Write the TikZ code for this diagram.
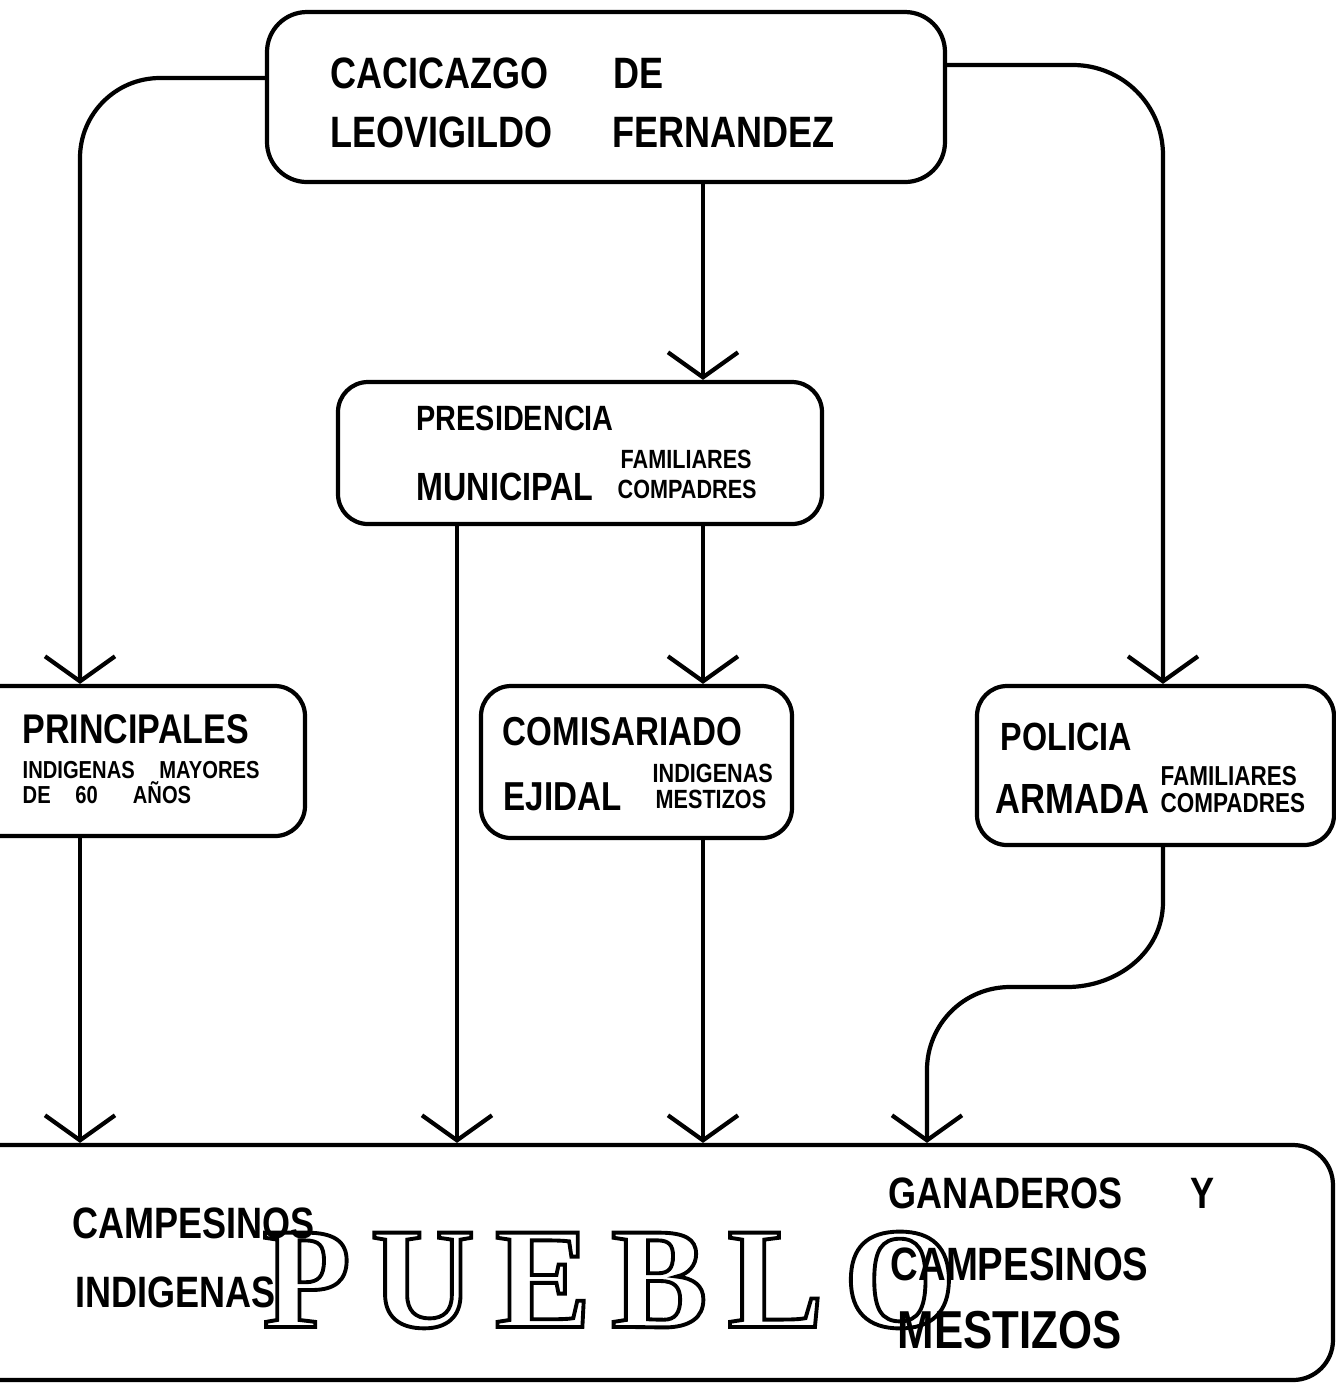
\documentclass[tikz,border=0pt]{standalone}
\usepackage{fontspec}
\usetikzlibrary{arrows.meta}
\newfontfamily\hand{Liberation Sans}[FakeStretch=0.82]
\newfontfamily\stencil{Liberation Serif}[LetterSpace=14]
\newcommand\hollow[1]{\special{pdf:literal direct 1 Tr 1.1 w}#1\special{pdf:literal direct 0 Tr}}
\tikzset{
  box/.style={draw,line width=1.2pt,rounded corners=3mm},
  arr/.style={line width=1.2pt,-{Straight Barb[length=2.5mm,width=7mm]}},
  lbl/.style={anchor=base west,inner sep=0pt,font=\hand\bfseries\fontsize{#1}{#1}\selectfont},
}
\begin{document}
\begin{tikzpicture}
        \useasboundingbox (0,0) rectangle (13.36,-13.87);
        \clip (0,0) rectangle (13.36,-13.87);
        %% Boxes
        \node[box,rounded corners=4mm,minimum width=6.78cm,minimum height=1.70cm] (cac) at (6.06,-0.97) {};
        \node[box,minimum width=4.84cm,minimum height=1.42cm] (pres) at (5.80,-4.53) {};
        \node[box,minimum width=3.45cm,minimum height=1.50cm] (prin) at (1.325,-7.61) {};
        \node[box,minimum width=3.11cm,minimum height=1.52cm] (com) at (6.365,-7.62) {};
        \node[box,minimum width=3.57cm,minimum height=1.59cm] (pol) at (11.555,-7.655) {};
        \node[box,rounded corners=4mm,minimum width=13.73cm,minimum height=2.35cm] (pue) at (6.465,-12.625) {};
        %% Columns and rows
        \coordinate (colA) at (0.80,0);
        \coordinate (colB) at (4.57,0);
        \coordinate (colC) at (7.03,0);
        \coordinate (colD) at (11.63,0);
        \coordinate (colE) at (9.27,0);
        \coordinate (rowL) at (0,-0.78);
        \coordinate (rowR) at (0,-0.65);
        %% Arrows
        \draw[arr,rounded corners=8mm] (cac.west |- rowL) -| (prin.north -| colA);
        \draw[arr,rounded corners=9mm] (cac.east |- rowR) -| (pol.north -| colD);
        \draw[arr] (cac.south -| colC) -- (pres.north -| colC);
        \draw[arr] (pres.south -| colC) -- (com.north -| colC);
        \draw[arr] (pres.south -| colB) -- (pue.north -| colB);
        \draw[arr] (prin.south -| colA) -- (pue.north -| colA);
        \draw[arr] (com.south -| colC) -- (pue.north -| colC);
        \draw[arr] (pol.south -| colD) -- ++(0,-0.55) to[out=-90,in=0] (10.67,-9.87)
            -- (10.10,-9.87) to[out=180,in=90] (colE |- 0,-10.70) -- (pue.north -| colE);
        %% Labels
        \node[lbl=12.5] (cac1) at (3.30,-0.88) {CACICAZGO};
        \node[lbl=12.5] (cac2) at (6.13,-0.88) {DE};
        \node[lbl=12.5] (cac3) at (3.30,-1.47) {LEOVIGILDO};
        \node[lbl=12.5] (cac4) at (6.12,-1.47) {FERNANDEZ};
        \node[lbl=10] (pres1) at (4.16,-4.30) {PRESIDENCIA};
        \node[lbl=11.2] (pres2) at (4.16,-5.00) {MUNICIPAL};
        \node[lbl=7.5] (pres3) at (6.20,-4.68) {FAMILIARES};
        \node[lbl=7.5] (pres4) at (6.17,-4.98) {COMPADRES};
        \node[lbl=11.8] (prin1) at (0.22,-7.43) {PRINCIPALES};
        \node[lbl=7] (prin2) at (0.22,-7.78) {INDIGENAS\hspace{7pt}MAYORES};
        \node[lbl=7] (prin3) at (0.22,-8.03) {DE\hspace{7pt}60\hspace{10pt}AÑOS};
        \node[lbl=11.5] (com1) at (5.02,-7.45) {COMISARIADO};
        \node[lbl=11.5] (com2) at (5.03,-8.10) {EJIDAL};
        \node[lbl=7.5] (com3) at (6.52,-7.82) {INDIGENAS};
        \node[lbl=7.5] (com4) at (6.55,-8.08) {MESTIZOS};
        \node[lbl=11.2] (pol1) at (10.00,-7.50) {POLICIA};
        \node[lbl=12] (pol2) at (9.95,-8.13) {ARMADA};
        \node[lbl=7.8] (pol3) at (11.60,-7.85) {FAMILIARES};
        \node[lbl=7.8] (pol4) at (11.60,-8.12) {COMPADRES};
        %% Pueblo
        \node[anchor=base west,inner sep=0pt,font=\stencil\bfseries\fontsize{41}{41}\selectfont] (pueblo) at (2.62,-13.27) {\hollow{PUEBLO}};
        \node[lbl=12.5] (pue1) at (0.72,-12.38) {CAMPESINOS};
        \node[lbl=12.5] (pue2) at (0.75,-13.07) {INDIGENAS};
        \node[lbl=12.5] (pue3) at (8.88,-12.08) {GANADEROS};
        \node[lbl=12.5] (pue4) at (11.90,-12.08) {Y};
        \node[lbl=13.3] (pue5) at (8.90,-12.80) {CAMPESINOS};
        \node[lbl=15.2] (pue6) at (8.97,-13.48) {MESTIZOS};
\end{tikzpicture}
\end{document}
